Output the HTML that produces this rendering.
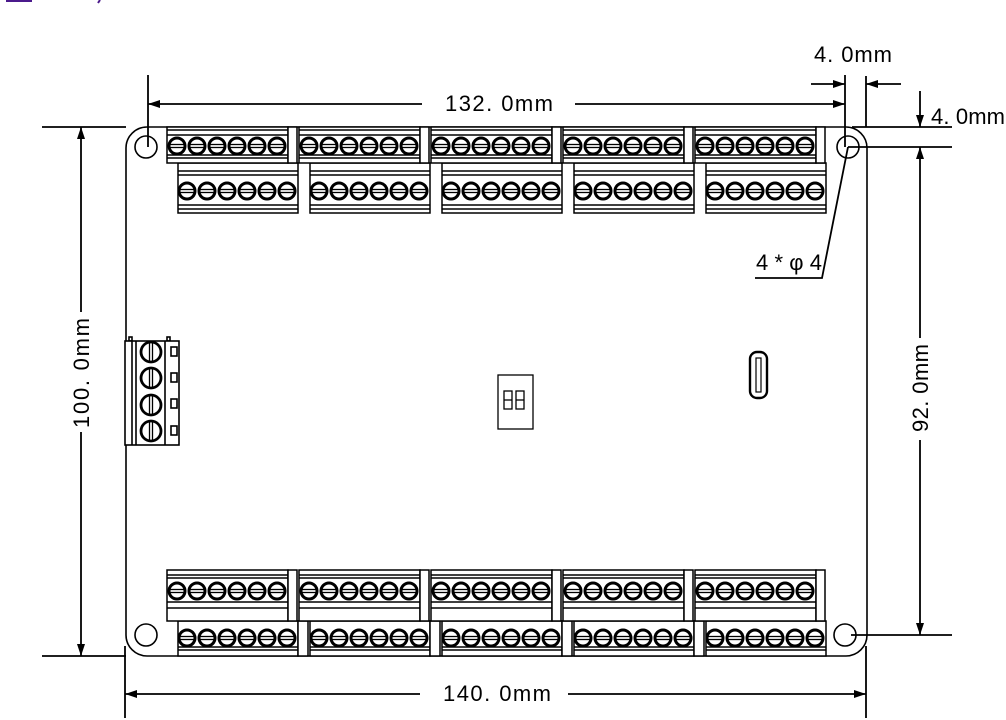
<!DOCTYPE html>
<html><head><meta charset="utf-8"><style>
html,body{margin:0;padding:0;background:#fff;}
svg{display:block;}
text{font-family:"Liberation Sans","Noto Sans CJK SC",sans-serif;font-size:22px;fill:#000;}
</style></head><body>
<svg width="1006" height="720" viewBox="0 0 1006 720" xmlns="http://www.w3.org/2000/svg">
<defs>
<g id="sc"><circle r="8" fill="#fff" stroke="#000" stroke-width="3"/><line x1="-7" y1="-1.5" x2="7" y2="-1.5" stroke="#000" stroke-width="1.3"/><line x1="-7" y1="1.5" x2="7" y2="1.5" stroke="#000" stroke-width="1.3"/></g>
<g id="six"><use href="#sc" x="10"/><use href="#sc" x="30"/><use href="#sc" x="50"/><use href="#sc" x="70"/><use href="#sc" x="90"/><use href="#sc" x="110"/></g>
<g id="tA" fill="#fff" stroke="#000" stroke-width="1.5">
 <rect x="0" y="0" width="121" height="36"/><rect x="121" y="0" width="9" height="36"/>
 <line x1="0" y1="3" x2="121" y2="3"/><line x1="0" y1="8" x2="121" y2="8"/>
 <line x1="0" y1="28" x2="121" y2="28"/><line x1="0" y1="31" x2="121" y2="31"/>
 <use href="#six" y="19"/>
</g>
<g id="tB" fill="#fff" stroke="#000" stroke-width="1.5">
 <rect x="0" y="0" width="120" height="50"/>
 <line x1="0" y1="8" x2="120" y2="8"/><line x1="0" y1="12" x2="120" y2="12"/>
 <line x1="0" y1="42" x2="120" y2="42"/><line x1="0" y1="46" x2="120" y2="46"/>
 <use href="#six" x="-1" y="28"/>
</g>
<g id="bA" fill="#fff" stroke="#000" stroke-width="1.5">
 <rect x="0" y="0" width="121" height="51"/><rect x="121" y="0" width="9" height="51"/>
 <line x1="0" y1="5" x2="121" y2="5"/><line x1="0" y1="8" x2="121" y2="8"/>
 <line x1="0" y1="32" x2="121" y2="32"/><line x1="0" y1="38" x2="121" y2="38"/>
 <use href="#six" y="21"/>
</g>
<g id="bB0" fill="#fff" stroke="#000" stroke-width="1.5">
 <rect x="0" y="0" width="120" height="35"/>
 <line x1="0" y1="26" x2="120" y2="26"/><line x1="0" y1="29" x2="120" y2="29"/>
 <use href="#six" x="-1" y="17"/>
</g>
<g id="bB"><use href="#bB0"/><rect x="120" y="0" width="10" height="35" fill="#fff" stroke="#000" stroke-width="1.5"/></g>
<marker id="ar" viewBox="0 0 12 8" refX="12" refY="4" markerWidth="12" markerHeight="8" markerUnits="userSpaceOnUse" orient="auto-start-reverse"><path d="M0,0L12,4L0,8z" fill="#000"/></marker>
</defs>

<line x1="6" y1="1" x2="32" y2="1" stroke="#4b1a8c" stroke-width="2"/>
<line x1="100" y1="0" x2="98" y2="3" stroke="#4b1a8c" stroke-width="2"/>

<rect x="126" y="127" width="741" height="529" rx="21" fill="#fff" stroke="#000" stroke-width="1.6"/>
<g fill="#fff" stroke="#000" stroke-width="1.6">
<circle cx="146" cy="147" r="11"/><circle cx="848" cy="147" r="11"/>
<circle cx="146" cy="635" r="11"/><circle cx="845" cy="635" r="11"/>
</g>

<use href="#tB" x="178" y="163"/><use href="#tB" x="310" y="163"/><use href="#tB" x="442" y="163"/><use href="#tB" x="574" y="163"/><use href="#tB" x="706" y="163"/>
<use href="#tA" x="167" y="127"/><use href="#tA" x="299" y="127"/><use href="#tA" x="431" y="127"/><use href="#tA" x="563" y="127"/><use href="#tA" x="695" y="127"/>
<use href="#bB" x="178" y="621"/><use href="#bB" x="310" y="621"/><use href="#bB" x="442" y="621"/><use href="#bB" x="574" y="621"/><use href="#bB0" x="706" y="621"/>
<use href="#bA" x="167" y="570"/><use href="#bA" x="299" y="570"/><use href="#bA" x="431" y="570"/><use href="#bA" x="563" y="570"/><use href="#bA" x="695" y="570"/>

<g fill="#fff" stroke="#000" stroke-width="1.6">
<rect x="129" y="337" width="3" height="4"/><rect x="167" y="337" width="3" height="4"/>
<rect x="125" y="341" width="54" height="104"/>
<line x1="132" y1="341" x2="132" y2="445"/><line x1="136" y1="341" x2="136" y2="445"/>
<line x1="165" y1="341" x2="165" y2="445"/>
<rect x="171" y="347" width="6" height="9"/><rect x="171" y="373" width="6" height="9"/><rect x="171" y="399" width="6" height="9"/><rect x="171" y="426" width="6" height="9"/>
</g>
<g stroke="#000" fill="#fff">
<circle cx="151" cy="352" r="10" stroke-width="2.8"/><circle cx="151" cy="378" r="10" stroke-width="2.8"/><circle cx="151" cy="405" r="10" stroke-width="2.8"/><circle cx="151" cy="431" r="10" stroke-width="2.8"/>
<g stroke-width="1.3"><line x1="149.5" y1="343" x2="149.5" y2="361"/><line x1="152.5" y1="343" x2="152.5" y2="361"/>
<line x1="149.5" y1="369" x2="149.5" y2="387"/><line x1="152.5" y1="369" x2="152.5" y2="387"/>
<line x1="149.5" y1="396" x2="149.5" y2="414"/><line x1="152.5" y1="396" x2="152.5" y2="414"/>
<line x1="149.5" y1="422" x2="149.5" y2="440"/><line x1="152.5" y1="422" x2="152.5" y2="440"/></g>
</g>

<g fill="none" stroke="#000" stroke-width="1.3">
<rect x="498" y="375" width="35" height="54"/>
<rect x="504" y="391" width="8" height="18"/><line x1="504" y1="400" x2="512" y2="400"/>
<rect x="516" y="391" width="8" height="18"/><line x1="516" y1="400" x2="524" y2="400"/>
</g>
<rect x="750" y="352" width="17" height="46" rx="7" fill="#fff" stroke="#000" stroke-width="2.4"/>
<rect x="756" y="358" width="5" height="34" fill="none" stroke="#000" stroke-width="1.2"/>

<g stroke="#000" stroke-width="1.8" fill="none">
<line x1="148" y1="75" x2="148" y2="147"/>
<line x1="845" y1="75" x2="845" y2="147"/>
<line x1="866" y1="76" x2="866" y2="127"/>
<line x1="148" y1="104" x2="422" y2="104" marker-start="url(#ar)"/>
<line x1="575" y1="104" x2="845" y2="104" marker-end="url(#ar)"/>
<line x1="811" y1="84" x2="845" y2="84" marker-end="url(#ar)"/>
<line x1="901" y1="84" x2="866" y2="84" marker-end="url(#ar)"/>
<line x1="42" y1="127" x2="126" y2="127"/>
<line x1="852" y1="127" x2="952" y2="127"/>
<line x1="848" y1="147" x2="952" y2="147"/>
<line x1="851" y1="635" x2="952" y2="635"/>
<line x1="42" y1="656" x2="126" y2="656"/>
<line x1="920" y1="91" x2="920" y2="127" marker-end="url(#ar)"/>
<line x1="920" y1="147" x2="920" y2="338" marker-start="url(#ar)"/>
<line x1="920" y1="440" x2="920" y2="635" marker-end="url(#ar)"/>
<line x1="81" y1="127" x2="81" y2="312" marker-start="url(#ar)"/>
<line x1="81" y1="432" x2="81" y2="656" marker-end="url(#ar)"/>
<line x1="125" y1="646" x2="125" y2="718"/>
<line x1="866" y1="646" x2="866" y2="718"/>
<line x1="125" y1="694" x2="420" y2="694" marker-start="url(#ar)"/>
<line x1="568" y1="694" x2="866" y2="694" marker-end="url(#ar)"/>
<polyline points="848,147 822,278 755,278"/>
</g>

<text x="445" y="111" textLength="108">132. 0mm</text>
<text x="814" y="62" textLength="78">4. 0mm</text>
<text x="931" y="124" textLength="74">4. 0mm</text>
<text x="756" y="270" textLength="66">4*φ4</text>
<text x="443" y="701" textLength="108">140. 0mm</text>
<text transform="translate(89,428) rotate(-90)" textLength="110">100. 0mm</text>
<text transform="translate(928,432) rotate(-90)" textLength="88">92. 0mm</text>
</svg>
</body></html>
